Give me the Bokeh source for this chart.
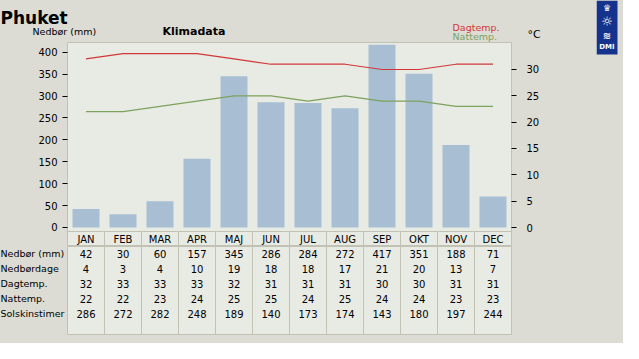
from bokeh.plotting import figure
from bokeh.models import Range1d, LinearAxis, FixedTicker, Label, ColumnDataSource, Span
from bokeh.layouts import column, row
from bokeh.core.properties import value
from bokeh.embed import file_html
from bokeh.resources import INLINE

# ---- data ----
months = ["JAN", "FEB", "MAR", "APR", "MAJ", "JUN", "JUL", "AUG", "SEP", "OKT", "NOV", "DEC"]
nedbor = [42, 30, 60, 157, 345, 286, 284, 272, 417, 351, 188, 71]
nedbordage = [4, 3, 4, 10, 19, 18, 18, 17, 21, 20, 13, 7]
dagtemp = [32, 33, 33, 33, 32, 31, 31, 31, 30, 30, 31, 31]
nattemp = [22, 22, 23, 24, 25, 25, 24, 25, 24, 24, 23, 23]
solskin = [286, 272, 282, 248, 189, 140, 173, 174, 143, 180, 197, 244]
row_labels = ["Nedbør (mm)", "Nedbørdage", "Dagtemp.", "Nattemp.", "Solskinstimer"]
left_ticks = [0, 50, 100, 150, 200, 250, 300, 350, 400]
right_ticks = [0, 5, 10, 15, 20, 25, 30]

FONT = "DejaVu Sans"
OUTER = "#dcdcd4"
INNER = "#e8eae4"
EDGE = "#c2c2b4"
BAR = "#a8bfd3"
RED = "#d03838"
GREEN = "#7ca25c"
LOGO = "#15328c"

idx = list(range(len(months)))
W_LEFT = 596


def bare(fig):
    fig.border_fill_color = OUTER
    fig.background_fill_color = OUTER
    fig.outline_line_color = None
    fig.xgrid.visible = False
    fig.ygrid.visible = False


def slabel(fig, text, x, y, size, color="#000000", bold=False, baseline="alphabetic"):
    fig.add_layout(Label(x=x, y=y, x_units="screen", y_units="screen", text=text,
                         text_font=FONT, text_font_size=size, text_color=color,
                         text_font_style="bold" if bold else "normal",
                         text_align="left", text_baseline=baseline))


# ---- header strip (titles, legend texts) ----
hdr = figure(width=W_LEFT, height=42, output_backend="svg", toolbar_location=None,
             x_range=Range1d(0, 1), y_range=Range1d(0, 1),
             x_axis_location=None, y_axis_location=None,
             min_border_left=0, min_border_right=0, min_border_top=0, min_border_bottom=0)
bare(hdr)
slabel(hdr, "Phuket", 0, 25, "17px", bold=True)
slabel(hdr, "Nedbør (mm)", 32, 11, "9.5px")
slabel(hdr, "Klimadata", 162, 11, "11px", bold=True)
slabel(hdr, "Dagtemp.", 452, 15, "9.5px", color=RED)
slabel(hdr, "Nattemp.", 452, 6, "9.5px", color=GREEN)
slabel(hdr, "°C", 527, 8, "11px")

# ---- main chart (plot area + month header row) ----
p = figure(width=W_LEFT, height=204, output_backend="svg", toolbar_location=None,
           x_range=Range1d(-0.5, 11.5), y_range=Range1d(-43.35, 422.09),
           x_axis_location=None, y_axis_location=None,
           min_border_left=67, min_border_right=W_LEFT - 511, min_border_top=0, min_border_bottom=0)
p.border_fill_color = OUTER
p.background_fill_color = INNER
p.outline_line_color = EDGE
p.xgrid.visible = False
p.ygrid.visible = False
p.extra_y_ranges = {"temp": Range1d(-3.607, 35.124), "tab": Range1d(0.5, -13.1)}

lax = LinearAxis(ticker=FixedTicker(ticks=left_ticks))
rax = LinearAxis(ticker=FixedTicker(ticks=right_ticks), y_range_name="temp")
for ax in (lax, rax):
    ax.axis_line_color = None
    ax.major_tick_in = 0
    ax.major_tick_out = 5
    ax.minor_tick_line_color = None
    ax.major_tick_line_color = "#000000"
    ax.major_label_text_font = FONT
    ax.major_label_text_font_size = "10px"
    ax.major_label_text_color = "#000000"
lax.major_label_standoff = 5
rax.major_label_standoff = 10
p.add_layout(lax, "left")
p.add_layout(rax, "right")

src = ColumnDataSource(dict(x=idx, nedbor=nedbor, dag=dagtemp, nat=nattemp))
p.vbar(x="x", top="nedbor", width=0.73, source=src, fill_color=BAR, line_color=None)
p.line(x="x", y="dag", source=src, line_color=RED, line_width=1.2, y_range_name="temp")
p.line(x="x", y="nat", source=src, line_color=GREEN, line_width=1.2, y_range_name="temp")

# month header row of the table
p.add_layout(Span(location=-0.5, dimension="width", y_range_name="tab",
                  line_color=EDGE, line_width=1))
sep = [i + 0.5 for i in range(11)]
p.segment(x0=sep, y0=[-0.5] * 11, x1=sep, y1=[0.5] * 11, y_range_name="tab",
          line_color=EDGE, line_width=1)
p.text(x=idx, y=[0] * 12, text=months, y_range_name="tab", text_font=value(FONT),
       text_font_size="10px", text_align="center", text_baseline="middle",
       text_color="#000000")

# ---- table body ----
t = figure(width=W_LEFT - 67, height=97, output_backend="svg", toolbar_location=None,
           x_range=Range1d(-0.5, 11.5), y_range=Range1d(6.37, 0.5),
           x_axis_location=None, y_axis_location=None,
           min_border_left=0, min_border_right=W_LEFT - 511, min_border_top=0, min_border_bottom=9)
t.border_fill_color = OUTER
t.background_fill_color = INNER
t.outline_line_color = EDGE
t.xgrid.ticker = FixedTicker(ticks=sep)
t.xgrid.grid_line_color = EDGE
t.ygrid.visible = False

rows = [nedbor, nedbordage, dagtemp, nattemp, solskin]
for r, vals in enumerate(rows, start=1):
    t.text(x=idx, y=[r] * 12, text=[str(v) for v in vals], text_font=value(FONT),
           text_font_size="10px", text_align="center", text_baseline="middle",
           text_color="#000000")

# row labels strip
lf = figure(width=67, height=97, output_backend="svg", toolbar_location=None,
            x_range=Range1d(0, 1), y_range=Range1d(6.37, 0.5),
            x_axis_location=None, y_axis_location=None,
            min_border_left=0, min_border_right=0, min_border_top=0, min_border_bottom=0)
bare(lf)
for r, name in enumerate(row_labels, start=1):
    lf.add_layout(Label(x=0, y=r, x_units="screen", text=name, text_font=FONT,
                        text_font_size="9.5px", text_color="#000000",
                        text_align="left", text_baseline="middle"))

# ---- DMI logo strip (pixel ranges, decoration only) ----
LW = 623 - W_LEFT
lg = figure(width=LW, height=343, output_backend="svg", toolbar_location=None,
            x_range=Range1d(0, LW), y_range=Range1d(0, 343),
            x_axis_location=None, y_axis_location=None,
            min_border_left=0, min_border_right=0, min_border_top=0, min_border_bottom=0)
bare(lg)
lg.quad(left=[0], right=[21], top=[343], bottom=[289], fill_color=LOGO, line_color=None)
logo_txt = ["♛", "☼", "≋", "DMI"]
logo_y = [336, 322, 308, 297]
logo_sz = ["9px", "13px", "10px", "7px"]
for tx, ty, ts in zip(logo_txt, logo_y, logo_sz):
    lg.text(x=[10.5], y=[ty], text=[tx], text_font=value(FONT), text_font_size=ts,
            text_font_style="bold", text_align="center", text_baseline="middle",
            text_color="#ffffff")

left = column(row(hdr), p, row(lf, t, spacing=0), spacing=0)
layout = row(left, lg, spacing=0, styles={"background-color": OUTER})
open("out.html", "w").write(file_html(layout, INLINE))
